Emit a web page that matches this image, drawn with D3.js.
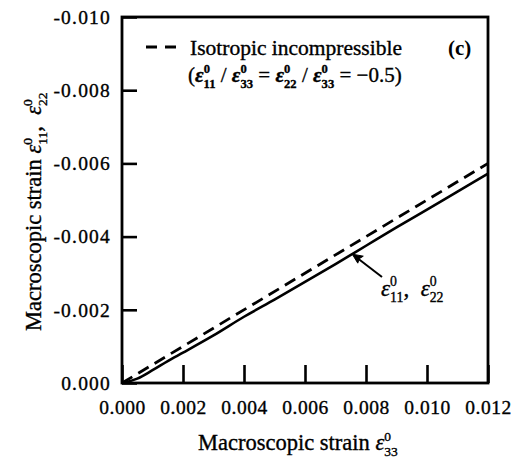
<!DOCTYPE html>
<html>
<head>
<style>
	body { margin: 0; background: #fff; }
	svg { font-family: "Liberation Serif", "Times New Roman", serif; }
	.axis path.domain { display: none; }
	.axis line { stroke: #000; stroke-width: 2.6px; }
	.axis text { font-family: "Liberation Serif", "Times New Roman", serif; font-size: 19.5px; fill: #000; letter-spacing: 0.5px; stroke: #000; stroke-width: 0.35px; }
	.y.axis text { letter-spacing: 1.2px; }
	.frame { fill: none; stroke: #000; stroke-width: 2.8px; }
	.curve { fill: none; stroke: #000; stroke-width: 2.6px; }
	.dash { fill: none; stroke: #000; stroke-width: 2.8px; stroke-dasharray: 12, 7; }
	.lbl { stroke: #000; stroke-width: 0.35px; }
</style>
<script src="https://d3js.org/d3.v7.min.js"></script>
</head>
<body>
<script>
	// values (x = eps33, y = eps11 = eps22)
	var xTicks = [0, 0.002, 0.004, 0.006, 0.008, 0.010, 0.012];
	var xTickLabels = ["0.000", "0.002", "0.004", "0.006", "0.008", "0.010", "0.012"];
	var yTicks = [0, -0.002, -0.004, -0.006, -0.008, -0.010];
	var yTickLabels = ["0.000", "-0.002", "-0.004", "-0.006", "-0.008", "-0.010"];

	var solidX = [0, 0.0005, 0.001, 0.0015, 0.002, 0.003, 0.004, 0.005, 0.006, 0.007, 0.008, 0.009, 0.010, 0.011, 0.012];
	var solidY = [0, -0.00012, -0.00035, -0.0006, -0.00083, -0.0013, -0.00181, -0.00228, -0.00276, -0.00325, -0.00375, -0.00425, -0.00474, -0.00523, -0.00572];
	var dashX = [0, 0.012];
	var dashY = [0, -0.006];

	var width = 529, height = 460;
	var mLeft = 122, mRight = 488, mTop = 17, mBottom = 383;

	var svg = d3.select("body").append("svg")
		.attr("width", width)
		.attr("height", height);

	var x = d3.scaleLinear().domain([0, 0.012]).range([mLeft, mRight]);
	var y = d3.scaleLinear().domain([0, -0.010]).range([mBottom, mTop]);

	svg.append("g")
		.attr("class", "x axis")
		.attr("transform", "translate(0," + mBottom + ")")
		.call(d3.axisBottom(x).tickValues(xTicks)
			.tickFormat(function(d, i){ return xTickLabels[i]; })
			.tickSizeInner(-18).tickSizeOuter(0).tickPadding(17));

	svg.append("g")
		.attr("class", "y axis")
		.attr("transform", "translate(" + mLeft + ",0)")
		.call(d3.axisLeft(y).tickValues(yTicks)
			.tickFormat(function(d, i){ return yTickLabels[i]; })
			.tickSizeInner(-15).tickSizeOuter(0).tickPadding(11));

	svg.append("rect")
		.attr("class", "frame")
		.attr("x", mLeft).attr("y", mTop)
		.attr("width", mRight - mLeft).attr("height", mBottom - mTop);

	var line = d3.line()
		.x(function(d){ return x(d[0]); })
		.y(function(d){ return y(d[1]); })
		.curve(d3.curveMonotoneX);

	svg.append("path")
		.attr("class", "curve")
		.attr("d", line(d3.zip(solidX, solidY)));

	svg.append("path")
		.attr("class", "dash")
		.attr("d", line(d3.zip(dashX, dashY)));

	// epsilon with stacked superscript 0 and subscript
	function eps(t, sub, s, bold) {
		var w = bold ? "bold" : "normal";
		t.append("tspan").attr("font-style", "italic").attr("font-weight", w).text("\u03b5");
		t.append("tspan").attr("font-size", s * 0.6).attr("dy", -s * 0.42)
			.attr("font-weight", w).text("0");
		t.append("tspan").attr("font-size", s * 0.6).attr("dx", -s * 0.3).attr("dy", s * 0.7)
			.attr("font-weight", w).text(sub);
		return -s * 0.28;
	}

	// legend
	svg.append("line")
		.attr("x1", 146).attr("x2", 177)
		.attr("y1", 47).attr("y2", 47)
		.attr("stroke", "#000").attr("stroke-width", 2.8)
		.attr("stroke-dasharray", "11,8");

	svg.append("text")
		.attr("class", "lbl")
		.attr("x", 190).attr("y", 55)
		.attr("font-size", 21.5)
		.text("Isotropic incompressible");

	svg.append("text")
		.attr("x", 448).attr("y", 55)
		.attr("font-size", 21).attr("font-weight", "bold")
		.text("(c)");

	var l2 = svg.append("text")
		.attr("class", "lbl")
		.attr("x", 188).attr("y", 82)
		.attr("font-size", 21);
	var back;
	l2.append("tspan").text("(");
	back = eps(l2, "11", 21, true);
	l2.append("tspan").attr("dy", back).text(" / ");
	back = eps(l2, "33", 21, true);
	l2.append("tspan").attr("dy", back).text(" = ");
	back = eps(l2, "22", 21, true);
	l2.append("tspan").attr("dy", back).text(" / ");
	back = eps(l2, "33", 21, true);
	l2.append("tspan").attr("dy", back).text(" = \u22120.5)");

	// annotation arrow pointing at the solid curve
	var ax0 = x(0.00755), ay0 = y(-0.00352);
	svg.append("line")
		.attr("x1", 382).attr("y1", 277)
		.attr("x2", ax0 + 4).attr("y2", ay0 + 3)
		.attr("stroke", "#000").attr("stroke-width", 2);
	svg.append("path")
		.attr("d", "M" + ax0 + "," + ay0 + " l11,2 l-4,2.5 l-1.5,4.5 z")
		.attr("fill", "#000").attr("stroke", "#000").attr("stroke-width", 1);

	var ann = svg.append("text")
		.attr("class", "lbl")
		.attr("x", 381).attr("y", 296)
		.attr("font-size", 23);
	back = eps(ann, "11", 23, false);
	ann.append("tspan").attr("dy", back).text(",\u2002");
	eps(ann, "22", 23, false);

	// axis titles
	var xt = svg.append("text")
		.attr("class", "lbl")
		.attr("x", 198).attr("y", 450)
		.attr("font-size", 22.5);
	xt.append("tspan").text("Macroscopic strain ");
	eps(xt, "33", 22.5, false);

	var yt = svg.append("text")
		.attr("class", "lbl")
		.attr("transform", "translate(41,331) rotate(-90)")
		.attr("font-size", 22.5);
	yt.append("tspan").text("Macroscopic strain ");
	back = eps(yt, "11", 22.5, false);
	yt.append("tspan").attr("dy", back).text(",\u2002");
	eps(yt, "22", 22.5, false);
</script>
</body>
</html>
